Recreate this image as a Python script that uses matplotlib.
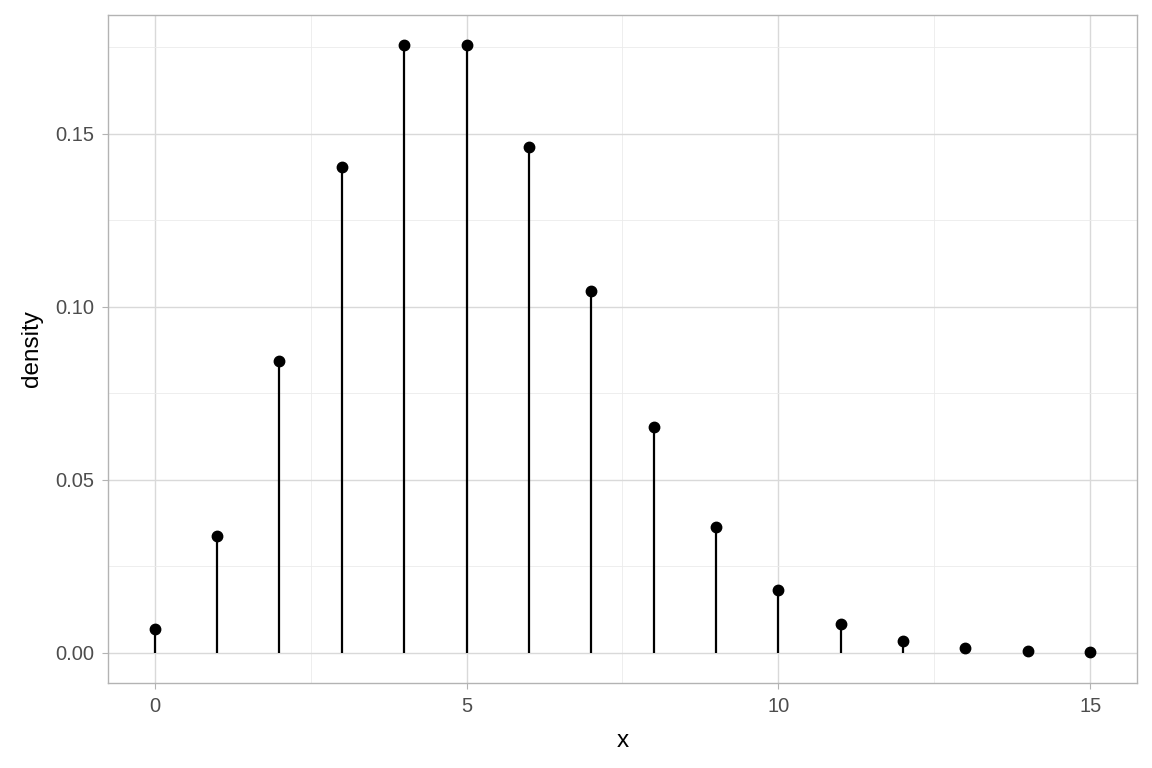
import matplotlib.pyplot as plt

plt.rcParams['font.family'] = ['Liberation Sans', 'DejaVu Sans']

x = [0, 1, 2, 3, 4, 5, 6, 7, 8, 9, 10, 11, 12, 13, 14, 15]
density = [0.006738, 0.03369, 0.08422, 0.1404, 0.1755, 0.1755, 0.1462, 0.1044,
           0.06528, 0.03627, 0.01813, 0.00824, 0.00343, 0.00132, 0.00047, 0.00016]

x_ticks = [0, 5, 10, 15]
y_ticks = [0.00, 0.05, 0.10, 0.15]
y_labels = ['0.00', '0.05', '0.10', '0.15']

fig = plt.figure(figsize=(11.52, 7.68), dpi=100)
ax = fig.add_axes([0.09375, 0.1107, 0.8932, 0.8698])

ax.vlines(x, 0, density, color='black', linewidth=1.6, zorder=3)
ax.plot(x, density, 'o', color='black', markersize=7.5, zorder=4)

ax.set_xlim(-0.75, 15.75)
ax.set_ylim(-0.0088, 0.1843)
ax.set_xticks(x_ticks)
ax.set_xticks([2.5, 7.5, 12.5], minor=True)
ax.set_yticks(y_ticks)
ax.set_yticklabels(y_labels)
ax.set_yticks([0.025, 0.075, 0.125, 0.175], minor=True)

ax.grid(which='major', color='#D9D9D9', linewidth=1.0)
ax.grid(which='minor', color='#EBEBEB', linewidth=0.6)
ax.set_axisbelow(True)

for s in ax.spines.values():
    s.set_color('#B3B3B3')
    s.set_linewidth(1.0)

ax.tick_params(which='major', length=4, color='#B3B3B3', labelcolor='#4D4D4D',
               labelsize=14.5, pad=6)
ax.tick_params(which='minor', length=0)

ax.set_xlabel('x', fontsize=17.5, labelpad=10)
ax.set_ylabel('density', fontsize=17.5, labelpad=9)

fig.savefig('out.png', dpi=100)
